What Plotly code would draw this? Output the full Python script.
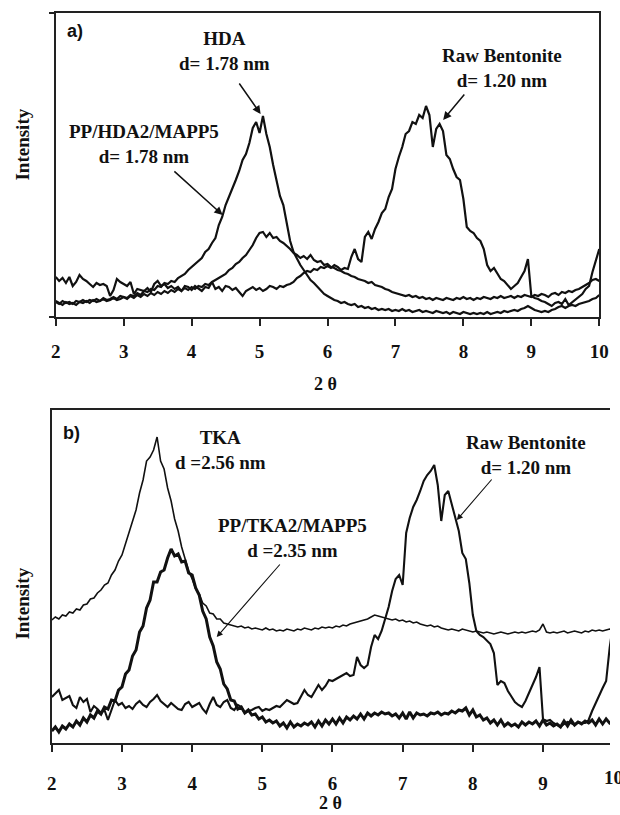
import plotly.graph_objects as go

W, H = 620, 815

# Scan grid (degrees 2-theta), shared by every pattern
two_theta = [
    2.00, 2.05, 2.10, 2.15, 2.20, 2.25, 2.30, 2.35, 2.40, 2.45,
    2.50, 2.55, 2.60, 2.65, 2.70, 2.75, 2.80, 2.85, 2.90, 2.95,
    3.00, 3.05, 3.10, 3.15, 3.20, 3.25, 3.30, 3.35, 3.40, 3.45,
    3.50, 3.55, 3.60, 3.65, 3.70, 3.75, 3.80, 3.85, 3.90, 3.95,
    4.00, 4.05, 4.10, 4.15, 4.20, 4.25, 4.30, 4.35, 4.40, 4.45,
    4.50, 4.55, 4.60, 4.65, 4.70, 4.75, 4.80, 4.85, 4.90, 4.95,
    5.00, 5.05, 5.10, 5.15, 5.20, 5.25, 5.30, 5.35, 5.40, 5.45,
    5.50, 5.55, 5.60, 5.65, 5.70, 5.75, 5.80, 5.85, 5.90, 5.95,
    6.00, 6.05, 6.10, 6.15, 6.20, 6.25, 6.30, 6.35, 6.40, 6.45,
    6.50, 6.55, 6.60, 6.65, 6.70, 6.75, 6.80, 6.85, 6.90, 6.95,
    7.00, 7.05, 7.10, 7.15, 7.20, 7.25, 7.30, 7.35, 7.40, 7.45,
    7.50, 7.55, 7.60, 7.65, 7.70, 7.75, 7.80, 7.85, 7.90, 7.95,
    8.00, 8.05, 8.10, 8.15, 8.20, 8.25, 8.30, 8.35, 8.40, 8.45,
    8.50, 8.55, 8.60, 8.65, 8.70, 8.75, 8.80, 8.85, 8.90, 8.95,
    9.00, 9.05, 9.10, 9.15, 9.20, 9.25, 9.30, 9.35, 9.40, 9.45,
    9.50, 9.55, 9.60, 9.65, 9.70, 9.75, 9.80, 9.85, 9.90, 9.95,
    10.00,
]

# Panel a) intensities (a.u.)
hda_a = [
    15, 13, 16, 14, 15, 13, 16, 15, 17, 15,
    17, 16, 18, 16, 19, 17, 18, 20, 18, 21,
    20, 19, 22, 21, 24, 22, 26, 25, 28, 27,
    31, 30, 34, 33, 36, 35, 39, 41, 43, 47,
    50, 53, 57, 59, 65, 68, 74, 79, 92, 100,
    112, 120, 128, 137, 146, 157, 163, 174, 189, 195,
    184, 201, 183, 170, 152, 138, 121, 112, 92, 76,
    65, 58, 52, 47, 42, 37, 34, 30, 27, 23,
    21, 19, 17, 16, 14, 15, 13, 12, 13, 10,
    11, 9, 10, 8, 9, 7, 8, 7, 8, 6,
    7, 6, 8, 6, 7, 5, 6, 7, 5, 6,
    5, 4, 6, 5, 4, 5, 3, 5, 4, 3,
    5, 4, 3, 4, 3, 4, 3, 5, 3, 4,
    5, 4, 6, 5, 6, 7, 6, 8, 9, 11,
    9, 7, 6, 5, 6, 5, 7, 8, 10, 11,
    9, 11, 12, 11, 13, 14, 15, 16, 18, 19,
    22,
]
pp_hda_a = [
    16, 14, 12, 15, 13, 14, 12, 15, 14, 16,
    14, 17, 15, 16, 18, 16, 17, 19, 17, 18,
    20, 18, 21, 19, 22, 20, 23, 21, 24, 22,
    25, 23, 26, 24, 27, 25, 28, 26, 29, 27,
    30, 28, 31, 30, 33, 32, 35, 37, 39, 41,
    43, 47, 49, 53, 55, 59, 62, 67, 72, 79,
    84, 85, 80, 84, 79, 80, 76, 74, 71, 68,
    64, 62, 59, 61, 58, 62, 57, 55, 56, 52,
    53, 50, 49, 47, 46, 44, 43, 41, 40, 38,
    37, 36, 34, 35, 32, 31, 30, 28, 27, 25,
    24, 23, 22, 21, 22, 20, 21, 19, 20, 18,
    19, 17, 19, 18, 17, 19, 18, 17, 19, 18,
    20, 18, 19, 17, 19, 18, 20, 19, 18, 20,
    19, 21, 19, 20, 21, 19, 21, 20, 22, 21,
    20, 22, 21, 23, 22, 20, 23, 24, 22, 25,
    24, 26, 25, 27, 28, 30, 32, 34, 37, 38,
    36,
]
raw_a = [
    40, 36, 39, 34, 40, 31, 35, 42, 38, 36,
    33, 30, 34, 32, 33, 31, 21, 27, 38, 35,
    33, 31, 35, 23, 28, 27, 26, 29, 25, 33,
    36, 31, 33, 29, 31, 28, 30, 26, 31, 30,
    27, 31, 28, 26, 30, 29, 35, 28, 30, 26,
    31, 30, 27, 29, 25, 21, 26, 28, 30, 27,
    29, 26, 28, 31, 30, 28, 31, 30, 32, 33,
    35, 39, 41, 44, 46, 45, 48, 47, 50, 49,
    51, 49, 52, 50, 47, 49, 48, 60, 68, 58,
    55, 80, 85, 78, 88, 95, 104, 108, 120, 128,
    148, 160, 170, 183, 186, 195, 193, 202, 199, 211,
    202, 170, 188, 193, 186, 162, 158, 148, 140, 137,
    118, 90, 86, 84, 79, 76, 68, 52, 46, 49,
    44, 38, 36, 32, 28, 31, 34, 40, 46, 58,
    21, 19, 18, 16, 15, 13, 11, 14, 15, 13,
    18, 12, 15, 17, 20, 23, 28, 31, 45, 58,
    68,
]

# Panel b) intensities (a.u.)
tka_b = [
    123, 126, 124, 128, 127, 131, 130, 134, 133, 138,
    139, 144, 145, 150, 153, 158, 160, 168, 173, 182,
    188, 199, 209, 222, 233, 250, 263, 282, 286, 293,
    306, 282, 274, 255, 242, 224, 212, 196, 185, 172,
    164, 154, 149, 140, 137, 130, 129, 124, 124, 120,
    119, 118, 117, 116, 117, 115, 116, 114, 115, 114,
    113, 115, 113, 114, 112, 113, 112, 114, 113, 112,
    114, 113, 115, 114, 113, 115, 114, 116, 115, 116,
    115, 117, 116, 118, 117, 119, 120, 121, 122, 123,
    124, 126, 128, 127, 126, 125, 124, 123, 124, 122,
    123, 121, 122, 120, 121, 119, 118, 117, 118, 116,
    117, 115, 114, 113, 114, 113, 112, 114, 113, 112,
    111, 112, 111, 110, 111, 110, 109, 110, 111, 110,
    109, 110, 111, 110, 111, 110, 111, 112, 111, 113,
    119, 111, 110, 111, 110, 111, 112, 110, 111, 112,
    111, 110, 112, 111, 113, 112, 113, 112, 113, 114,
    113,
]
pp_tka_b = [
    12, 16, 11, 17, 14, 19, 16, 22, 18, 25,
    21, 28, 25, 32, 29, 36, 34, 43, 42, 53,
    56, 69, 73, 87, 93, 111, 117, 135, 143, 161,
    161, 171, 173, 185, 194, 187, 189, 181, 182, 170,
    168, 155, 148, 132, 124, 106, 97, 81, 74, 59,
    54, 43, 42, 34, 36, 30, 33, 28, 29, 24,
    26, 21, 23, 20, 22, 17, 20, 15, 21, 16,
    19, 17, 20, 18, 21, 16, 22, 17, 23, 19,
    24, 19, 25, 20, 26, 23, 27, 24, 29, 24,
    30, 27, 30, 28, 31, 29, 30, 27, 29, 25,
    30, 24, 31, 25, 30, 28, 29, 27, 30, 29,
    31, 28, 30, 29, 32, 30, 33, 32, 35, 28,
    33, 26, 28, 23, 25, 20, 23, 18, 23, 17,
    20, 17, 19, 16, 21, 18, 21, 19, 22, 17,
    23, 18, 20, 17, 19, 16, 22, 17, 23, 18,
    21, 19, 22, 20, 23, 18, 24, 19, 24, 20,
    22,
]
raw_b = [
    46, 50, 53, 43, 45, 47, 38, 35, 46, 41,
    44, 31, 37, 34, 30, 33, 23, 33, 43, 38,
    40, 35, 37, 34, 39, 42, 38, 36, 41, 44,
    48, 42, 39, 36, 40, 37, 34, 33, 39, 41,
    36, 38, 40, 34, 30, 39, 46, 38, 36, 41,
    43, 35, 33, 38, 36, 30, 32, 33, 35, 36,
    32, 34, 33, 35, 37, 36, 40, 43, 41, 39,
    40, 47, 53, 48, 46, 52, 58, 53, 57, 63,
    62, 64, 66, 68, 70, 67, 68, 86, 78, 75,
    78, 96, 108, 104, 112, 124, 136, 152, 164, 168,
    158, 210, 225, 236, 243, 252, 262, 268, 272, 278,
    258, 222, 248, 252, 238, 224, 212, 190, 184, 160,
    128, 112, 108, 106, 102, 99, 90, 58, 62, 60,
    52, 46, 41, 38, 36, 42, 50, 58, 66, 76,
    24, 22, 23, 20, 18, 16, 19, 21, 20, 18,
    21, 20, 20, 23, 32, 40, 48, 55, 62, 95,
    120,
]

tick_vals = [2, 3, 4, 5, 6, 7, 8, 9, 10]
tick_text = [str(v) for v in tick_vals]


def fx(px):
    return px / W


def fy(py):
    return 1 - py / H


INK = "#111111"
AXIS = "#222222"
SERIF = "Liberation Serif, Times New Roman, serif"
SANS = "Liberation Sans, Arial, sans-serif"

fig = go.Figure()

# panel a) traces
for ys, w in ((raw_a, 2.2), (pp_hda_a, 2.2), (hda_a, 2.2)):
    fig.add_trace(go.Scatter(x=two_theta, y=ys, mode="lines",
                             line=dict(color=INK, width=w),
                             xaxis="x", yaxis="y", hoverinfo="skip"))

# panel b) traces
for ys, w in ((raw_b, 2.1), (tka_b, 1.6), (pp_tka_b, 3.0)):
    fig.add_trace(go.Scatter(x=two_theta, y=ys, mode="lines",
                             line=dict(color=INK, width=w),
                             xaxis="x2", yaxis="y2", hoverinfo="skip"))

tickfont = dict(family=SERIF, size=19, color=INK, weight="bold")
base = dict(showgrid=False, zeroline=False, showline=True,
            linecolor=AXIS, linewidth=1.6)

fig.update_layout(
    width=W, height=H,
    margin=dict(l=0, r=0, t=0, b=0),
    paper_bgcolor="white", plot_bgcolor="white",
    showlegend=False, hovermode=False,
    xaxis=dict(domain=[fx(52), fx(609)], range=[2, 10], anchor="y",
               tickvals=tick_vals, ticktext=tick_text,
               ticks="outside", ticklen=7, tickwidth=1.5, tickcolor=AXIS,
               tickfont=tickfont, ticklabelstandoff=9, mirror=True, **base),
    yaxis=dict(domain=[fy(317), fy(13)], range=[0, 304], anchor="x",
               tickvals=[0, 304], ticks="outside", ticklen=5,
               tickwidth=1.5, tickcolor=AXIS, showticklabels=False,
               mirror=True, **base),
    xaxis2=dict(domain=[fx(48), 1.0], range=[2, 9.955], anchor="y2",
                tickvals=tick_vals, ticktext=tick_text,
                ticks="outside", ticklen=7, tickwidth=1.5, tickcolor=AXIS,
                tickfont=tickfont, ticklabelstandoff=15, mirror=True, **base),
    yaxis2=dict(domain=[fy(743), fy(410)], range=[0, 333], anchor="x2",
                ticks="", showticklabels=False, mirror=False, **base),
)

lab = dict(family=SERIF, size=19, color=INK, weight="bold")
annotations = []


def text_at(px, py, text, font=lab, angle=0, anchor="center"):
    annotations.append(dict(x=fx(px), y=fy(py), xref="paper", yref="paper",
                            text=text, showarrow=False, font=font,
                            textangle=angle, xanchor=anchor,
                            yanchor="middle"))


def arrow(xa, ya, head, tail, width):
    annotations.append(dict(xref=xa, yref=ya, axref=xa, ayref=ya,
                            x=head[0], y=head[1], ax=tail[0], ay=tail[1],
                            text="", showarrow=True, arrowhead=2,
                            arrowsize=1.1, arrowwidth=width,
                            arrowcolor=INK, standoff=0))


# panel a) labels
text_at(72, 31, "a)", font=dict(family=SANS, size=18, color=INK, weight="bold"))
text_at(225, 51.5, "HDA<br>d= 1.78 nm")
text_at(142, 143.5, "PP/HDA2/MAPP5<br>d= 1.78 nm")
text_at(509, 68.5, "Raw Bentonite<br>d= 1.20 nm")
text_at(18, 145, "Intensity", angle=-90)
text_at(328, 384, "2 θ", font=dict(family=SERIF, size=18, color=INK, weight="bold"))
arrow("x", "y", (5.016, 203), (4.686, 235), 1.5)
arrow("x", "y", (7.702, 197), (8.032, 224), 1.5)
arrow("x", "y", (4.456, 102), (3.724, 147), 1.5)

# panel b) labels
text_at(68, 433, "b)", font=dict(family=SANS, size=18, color=INK, weight="bold"))
text_at(221, 449.5, "TKA<br>d =2.56 nm")
text_at(295, 538, "PP/TKA2/MAPP5<br>d =2.35 nm")
text_at(534, 455, "Raw Bentonite<br>d= 1.20 nm")
text_at(17, 604, "Intensity", angle=-90)
text_at(334, 803, "2 θ", font=dict(family=SERIF, size=18, color=INK, weight="bold"))
# last tick label of panel b runs past the right edge of the figure
text_at(612, 777, "10", font=tickfont, anchor="left")
arrow("x2", "y2", (7.772, 223), (8.287, 265), 1.1)
arrow("x2", "y2", (4.350, 106), (5.268, 180), 1.1)

fig.update_layout(annotations=annotations)

fig.write_html("out.html")
